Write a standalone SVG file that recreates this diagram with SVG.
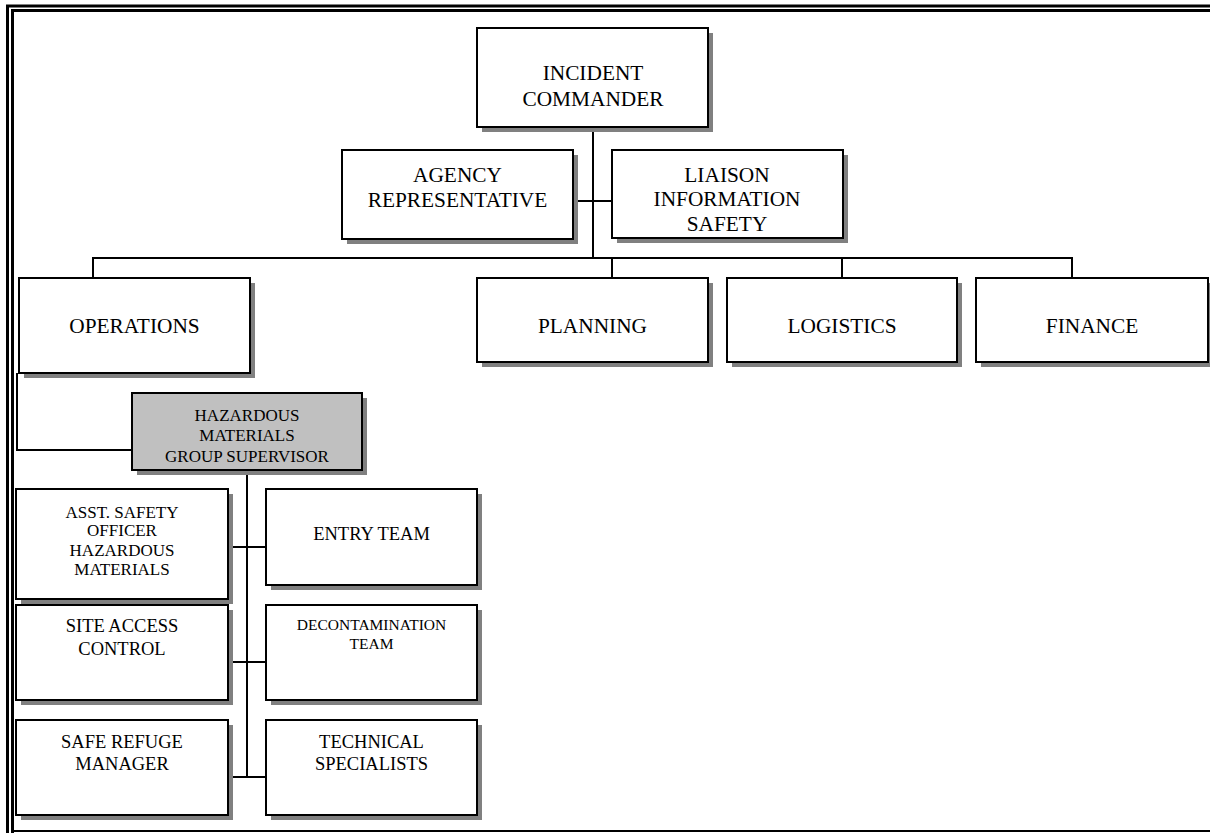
<svg xmlns="http://www.w3.org/2000/svg" width="1210" height="833" viewBox="0 0 1210 833">
<style>
.sh{fill:#808080}
.bx{fill:#fff;stroke:#000;stroke-width:2}
.gr{fill:#c0c0c0;stroke:#000;stroke-width:2}
text{font-family:"Liberation Serif","Times New Roman",serif;fill:#000;text-anchor:middle}
.f21{font-size:21.33px}
.f185{font-size:18.5px}
.f17{font-size:17px}
.f155{font-size:15.5px}
.cn{fill:none;stroke:#000;stroke-width:2}
.fr{fill:none;stroke:#000}
</style>
<rect x="0" y="0" width="1210" height="833" fill="#fff"/>
<g id="frame">
<path class="fr" stroke-width="3" d="M7.5,833 V6 H1210"/>
<path class="fr" stroke-width="3" d="M12.5,833 V10.5 H1210"/>
<path class="fr" stroke-width="2" d="M12.5,831 H1210"/>
</g>
<g id="connectors">
<path class="cn" d="M593,127 V258"/>
<path class="cn" d="M573,201 H612"/>
<path class="cn" d="M93,278 V258 H1072 V278"/>
<path class="cn" d="M612,258 V278"/>
<path class="cn" d="M842,258 V278"/>
<path class="cn" d="M17,373 V450 H132"/>
<path class="cn" d="M247,470 V777"/>
<path class="cn" d="M228,547 H266"/>
<path class="cn" d="M228,662 H266"/>
<path class="cn" d="M228,777 H266"/>
</g>
<g id="incident-commander">
<rect class="sh" x="482" y="33" width="231" height="99"/>
<rect class="bx" x="477" y="28" width="231" height="99"/>
<text class="f21" x="593" y="80">INCIDENT</text>
<text class="f21" x="593" y="105.5">COMMANDER</text>
</g>
<g id="agency-representative">
<rect class="sh" x="347" y="155" width="231" height="89"/>
<rect class="bx" x="342" y="150" width="231" height="89"/>
<text class="f21" x="457.5" y="181.5">AGENCY</text>
<text class="f21" x="457.5" y="206.5">REPRESENTATIVE</text>
</g>
<g id="liaison">
<rect class="sh" x="617" y="155" width="231" height="88"/>
<rect class="bx" x="612" y="150" width="231" height="88"/>
<text class="f21" x="727" y="181.5">LIAISON</text>
<text class="f21" x="727" y="206">INFORMATION</text>
<text class="f21" x="727" y="230.5">SAFETY</text>
</g>
<g id="operations">
<rect class="sh" x="24" y="283" width="231" height="95"/>
<rect class="bx" x="19" y="278" width="231" height="95"/>
<text class="f21" x="134.5" y="333">OPERATIONS</text>
</g>
<g id="planning">
<rect class="sh" x="482" y="283" width="231" height="84"/>
<rect class="bx" x="477" y="278" width="231" height="84"/>
<text class="f21" x="592.5" y="333">PLANNING</text>
</g>
<g id="logistics">
<rect class="sh" x="732" y="283" width="230" height="84"/>
<rect class="bx" x="727" y="278" width="230" height="84"/>
<text class="f21" x="842" y="333">LOGISTICS</text>
</g>
<g id="finance">
<rect class="sh" x="981" y="283" width="232" height="84"/>
<rect class="bx" x="976" y="278" width="232" height="84"/>
<text class="f21" x="1092" y="333">FINANCE</text>
</g>
<g id="hazmat-group-supervisor">
<rect class="sh" x="137" y="398" width="230" height="77"/>
<rect class="gr" x="132" y="393" width="230" height="77"/>
<text class="f17" x="247" y="421">HAZARDOUS</text>
<text class="f17" x="247" y="440.5">MATERIALS</text>
<text class="f17" x="247" y="461.5">GROUP SUPERVISOR</text>
</g>
<g id="asst-safety-officer">
<rect class="sh" x="21" y="494" width="212" height="110"/>
<rect class="bx" x="16" y="489" width="212" height="110"/>
<text class="f17" x="122" y="517.5">ASST. SAFETY</text>
<text class="f17" x="122" y="536">OFFICER</text>
<text class="f17" x="122" y="556">HAZARDOUS</text>
<text class="f17" x="122" y="575">MATERIALS</text>
</g>
<g id="entry-team">
<rect class="sh" x="271" y="494" width="211" height="96"/>
<rect class="bx" x="266" y="489" width="211" height="96"/>
<text class="f185" x="371.5" y="540">ENTRY TEAM</text>
</g>
<g id="site-access-control">
<rect class="sh" x="21" y="610" width="212" height="95"/>
<rect class="bx" x="16" y="605" width="212" height="95"/>
<text class="f185" x="122" y="631.5">SITE ACCESS</text>
<text class="f185" x="122" y="655">CONTROL</text>
</g>
<g id="decontamination-team">
<rect class="sh" x="271" y="610" width="211" height="95"/>
<rect class="bx" x="266" y="605" width="211" height="95"/>
<text class="f155" x="371.5" y="630">DECONTAMINATION</text>
<text class="f155" x="371.5" y="649">TEAM</text>
</g>
<g id="safe-refuge-manager">
<rect class="sh" x="21" y="725" width="212" height="95"/>
<rect class="bx" x="16" y="720" width="212" height="95"/>
<text class="f185" x="122" y="748">SAFE REFUGE</text>
<text class="f185" x="122" y="770">MANAGER</text>
</g>
<g id="technical-specialists">
<rect class="sh" x="271" y="725" width="211" height="95"/>
<rect class="bx" x="266" y="720" width="211" height="95"/>
<text class="f185" x="371.5" y="748">TECHNICAL</text>
<text class="f185" x="371.5" y="770">SPECIALISTS</text>
</g>
</svg>
